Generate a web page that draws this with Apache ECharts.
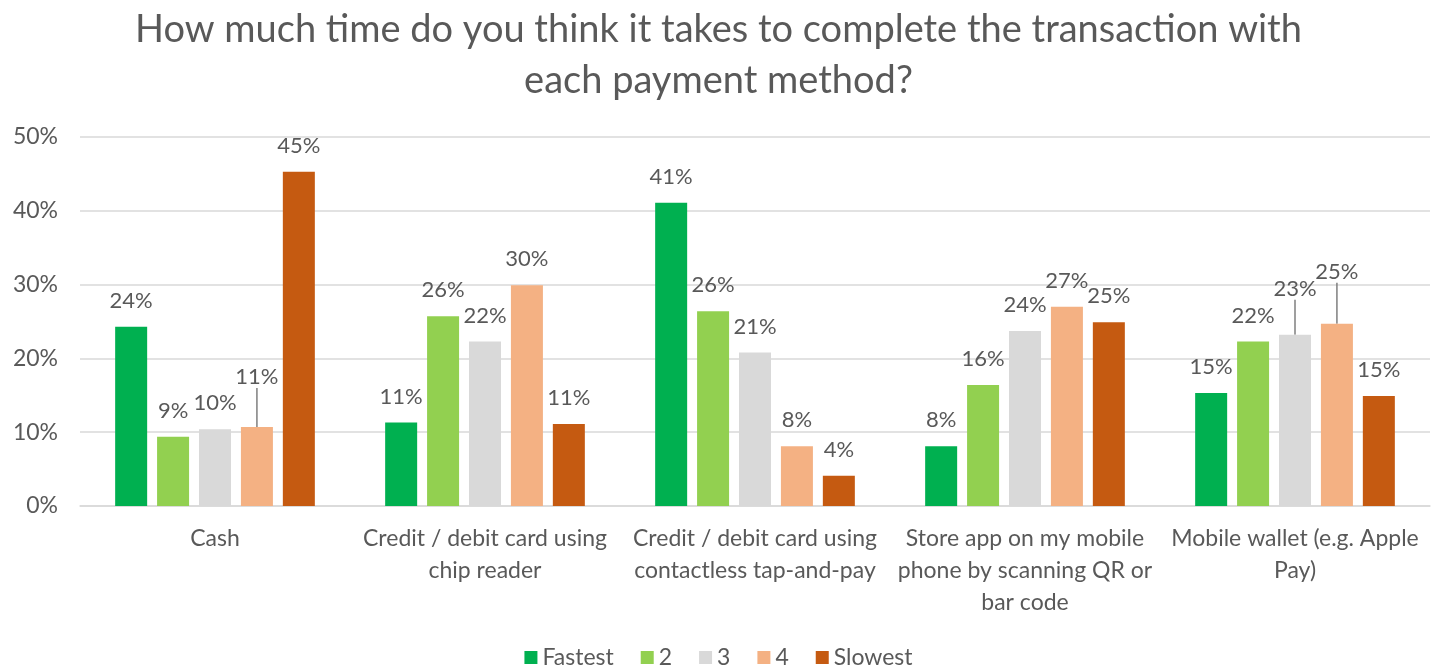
<!DOCTYPE html>
<html>
<head>
<meta charset="utf-8">
<script src="https://cdn.jsdelivr.net/npm/echarts@6/dist/echarts.min.js"></script>
<style>
  html, body { margin: 0; padding: 0; background: #fff; }
  #chart { width: 1437px; height: 671px; }
</style>
</head>
<body>
<div id="chart"></div>
<script>
// categories and series values (percent)
const categories = [
  'Cash',
  'Credit / debit card using\nchip reader',
  'Credit / debit card using\ncontactless tap-and-pay',
  'Store app on my mobile\nphone by scanning QR or\nbar code',
  'Mobile wallet (e.g. Apple\nPay)'
];
const seriesNames = ['Fastest', '2', '3', '4', 'Slowest'];
const fastest = [24.3, 11.3, 41.1, 8.1, 15.3];
const second  = [9.4, 25.7, 26.4, 16.4, 22.3];
const third   = [10.4, 22.3, 20.8, 23.7, 23.2];
const fourth  = [10.7, 29.9, 8.1, 27.0, 24.7];
const slowest = [45.3, 11.1, 4.1, 24.9, 14.9];
const colors = ['#00b050', '#92d050', '#d9d9d9', '#f4b183', '#c55a11'];

// labels lifted with a leader line: 'seriesIndex-dataIndex' -> dy
const lifted = { '3-0': -24, '2-4': -20, '3-4': -26 };

const font = 'Lato, "Open Sans", sans-serif';
const allValues = [fastest, second, third, fourth, slowest];

let series = allValues.map(function (vals, si) {
  return {
    name: seriesNames[si],
    type: 'bar',
    data: vals.map(function (v, di) {
      if (lifted[si + '-' + di]) {
        return { value: v, labelLine: { show: true } };
      }
      return v;
    }),
    barWidth: 32,
    barGap: '31%',
    itemStyle: { color: colors[si] },
    label: {
      show: true,
      position: 'top',
      distance: 15,
      color: '#595959',
      fontSize: 22,
      fontFamily: font,
      formatter: function (p) { return Math.round(p.value) + '%'; }
    },
    labelLine: {
      show: false,
      lineStyle: { color: '#7f7f7f', width: 1.5 }
    },
    labelLayout: function (p) {
      const dy = lifted[si + '-' + p.dataIndex];
      return dy ? { dy: dy } : {};
    }
  };
});

let option = {
  backgroundColor: '#fff',
  title: {
    text: 'How much time do you think it takes to complete the transaction with\neach payment method?',
    left: 'center',
    top: -1,
    textStyle: {
      color: '#595959',
      fontSize: 38,
      fontWeight: 'normal',
      fontFamily: font,
      lineHeight: 51
    }
  },
  legend: {
    bottom: -3,
    left: 'center',
    itemWidth: 13,
    itemHeight: 13,
    itemGap: 27,
    icon: 'rect',
    textStyle: { color: '#595959', fontSize: 23, fontFamily: font },
    data: seriesNames
  },
  grid: {
    left: 80,
    right: 7,
    top: 137,
    bottom: 165
  },
  xAxis: {
    type: 'category',
    data: categories,
    axisLine: { lineStyle: { color: '#d9d9d9', width: 1.5 } },
    axisTick: { show: false },
    axisLabel: {
      color: '#595959',
      fontSize: 23,
      fontFamily: font,
      lineHeight: 32,
      margin: 17,
      interval: 0
    }
  },
  yAxis: {
    type: 'value',
    min: 0,
    max: 50,
    interval: 10,
    axisLine: { show: false },
    axisTick: { show: false },
    splitLine: { lineStyle: { color: '#d9d9d9', width: 1.5 } },
    axisLabel: {
      color: '#595959',
      fontSize: 23,
      fontFamily: font,
      margin: 22,
      formatter: '{value}%'
    }
  },
  series: series
};

let myChart = echarts.init(document.getElementById('chart'));
myChart.setOption(option);
</script>
</body>
</html>
